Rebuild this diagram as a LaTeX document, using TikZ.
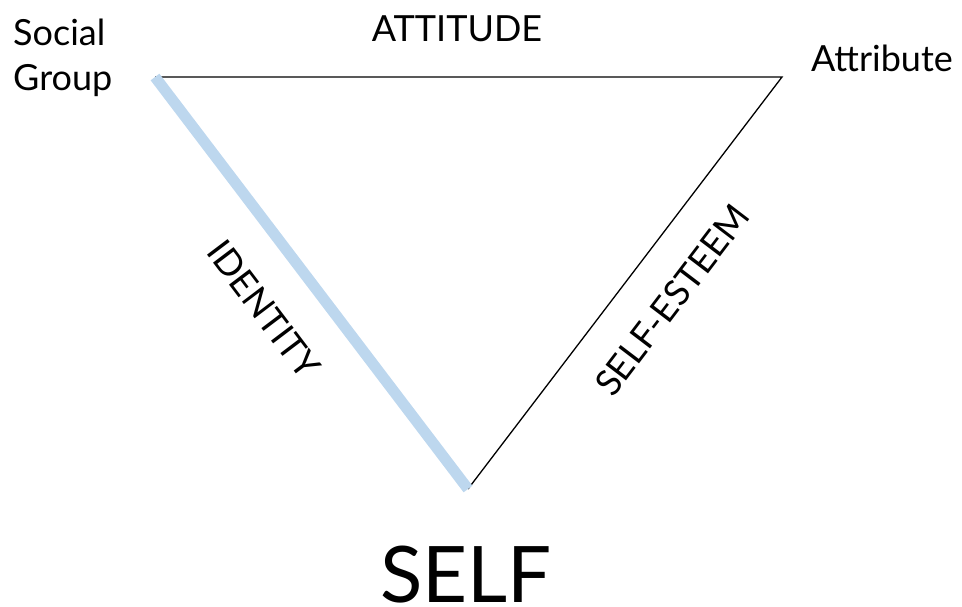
\documentclass[tikz,border=0pt]{standalone}
\usepackage{fontspec}
\setmainfont{Lato}
\usepackage{xcolor}
\definecolor{identityblue}{HTML}{BDD7EE}
\begin{document}
\begin{tikzpicture}[x=1pt,y=-1pt]
  \useasboundingbox (0,0) rectangle (962,607);
  \tikzset{lbl/.style={font=\fontsize{36}{45}\selectfont},
    edge/.style={draw=black,line width=1.3pt}}
  % corners of the triangle
  \coordinate (group) at (155,77);
  \coordinate (attr) at (782,77);
  \coordinate (self) at (468,489);
  \draw[edge] (group) -- (attr) -- (self);
  \draw[identityblue,line width=11pt] (group) -- (self);
  \node[lbl,align=left,anchor=north west,inner sep=0pt] (groupname) at (13,19) {Social\\Group};
  \node[lbl] (attitude) at (457,29) {ATTITUDE};
  \node[lbl] (attrname) at (882,58) {Attribute};
  \node[lbl,rotate=-52.9] (identity) at (264,309) {IDENTITY};
  \node[lbl,rotate=52.7] (esteem) at (672,300) {SELF-ESTEEM};
  \node[font=\fontsize{78}{80}\selectfont,anchor=north,inner sep=0pt] (selfname) at (466,546) {SELF};
\end{tikzpicture}
\end{document}
